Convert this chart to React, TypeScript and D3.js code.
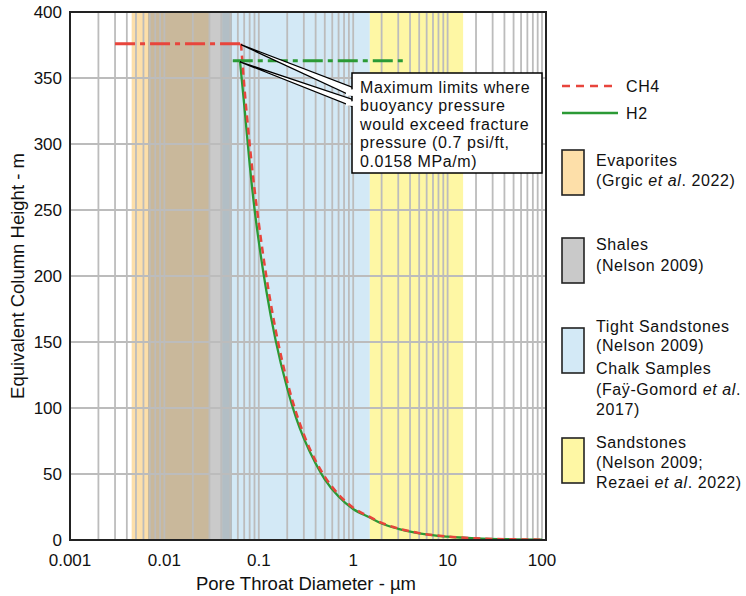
import React from "react";
import * as d3 from "d3";

// ---------- data ----------
const h2Diameter = [0.0632, 0.07, 0.08, 0.09, 0.1, 0.12, 0.15, 0.2, 0.25, 0.3, 0.4, 0.5, 0.7, 1, 1.5, 2, 3, 5, 10, 20, 50, 100];
const h2Height = [363, 330, 285, 251, 226, 189, 152, 115, 92, 77, 58, 46, 33, 23.5, 17, 12.5, 8.5, 5, 2.5, 1.2, 0.5, 0.25];
const ch4Diameter = [0.0648, 0.07, 0.08, 0.09, 0.1, 0.12, 0.15, 0.2, 0.25, 0.3, 0.4, 0.5, 0.7, 1, 1.5, 2, 3, 5, 10, 20, 50, 100];
const ch4Height = [376, 345, 300, 266, 240, 200, 160, 120, 96, 80, 60, 48, 34.5, 24.5, 17.5, 13, 8.8, 5.2, 2.6, 1.3, 0.5, 0.25];

const limitGas = ["CH4", "H2"];
const limitHeight = [376, 363];
const limitFrom = [0.003, 0.053];
const limitTo = [0.0648, 3.7];

const bandNames = ["Evaporites", "Tight Sandstones", "Sandstones", "Shales"];
const bandFrom = [0.0045, 0.041, 1.5, 0.0067];
const bandTo = [0.0304, 1.5, 14.6, 0.052];

const xTickValues = [0.001, 0.01, 0.1, 1, 10, 100];
const xTickLabels = ["0.001", "0.01", "0.1", "1", "10", "100"];
const yTickValues = [0, 50, 100, 150, 200, 250, 300, 350, 400];

const calloutLines = [
  "Maximum limits where",
  "buoyancy pressure",
  "would exceed fracture",
  "pressure (0.7 psi/ft,",
  "0.0158 MPa/m)",
];

// ---------- styles ----------
const FONT = "'Liberation Sans', Arial, Helvetica, sans-serif";
const RED = "#e8453c";
const GREEN = "#2b9a35";
const GRID = "#bcbcbc";
const bandFill: Record<string, string> = {
  Evaporites: "#fddfa9",
  "Tight Sandstones": "#d3e9f6",
  Sandstones: "#fef7a4",
  Shales: "#8a8a8a",
};
const bandOpacity: Record<string, number> = {
  Evaporites: 1,
  "Tight Sandstones": 1,
  Sandstones: 1,
  Shales: 0.45,
};

export default function App() {
  const W = 746, H = 596;
  const left = 70, right = 542, frameRight = 546, top = 12, bottom = 540;
  const FS = 16;
  const LS = 0.6;
  const TFS = 17;

  const x = d3.scaleLog().domain([0.001, 100]).range([left, right]);
  const y = d3.scaleLinear().domain([0, 400]).range([bottom, top]);

  const minorX: number[] = [];
  for (let e = -3; e <= 1; e++) {
    for (let m = 1; m <= 9; m++) minorX.push(m * Math.pow(10, e));
  }
  minorX.push(100);

  const line = d3
    .line<[number, number]>()
    .x((d) => x(d[0]))
    .y((d) => y(d[1]))
    .curve(d3.curveMonotoneX);

  const h2Path = line(h2Diameter.map((d, i) => [d, h2Height[i]]))!;
  const ch4Path = line(ch4Diameter.map((d, i) => [d, ch4Height[i]]))!;

  // callout geometry
  const boxX = 352, boxY = 73, boxW = 190, boxH = 100;
  const tips = [
    [x(limitTo[0]), y(limitHeight[0]) + 1],
    [x(h2Diameter[0]), y(limitHeight[1]) + 1],
  ];
  const wedgeEnds = [
    [88, 97],
    [100, 107],
  ];

  const legendText = (lines: React.ReactNode[], x0: number, ys: number[]) =>
    lines.map((l, i) => (
      <text key={i} x={x0} y={ys[i]} fontSize={FS} letterSpacing={LS} fontFamily={FONT} fill="#111">
        {l}
      </text>
    ));

  return (
    <svg width={W} height={H} style={{ position: "absolute", left: 0, top: 0, background: "#fff" }}>
      <rect x={0} y={0} width={W} height={H} fill="#fff" />
      {/* bands */}
      {bandNames.map((n, i) => (
        <rect
          key={n}
          x={x(bandFrom[i])}
          y={top}
          width={x(bandTo[i]) - x(bandFrom[i])}
          height={bottom - top}
          fill={bandFill[n]}
          fillOpacity={bandOpacity[n]}
        />
      ))}
      {/* grid */}
      {minorX.map((v, i) => (
        <line key={"gx" + i} x1={x(v)} x2={x(v)} y1={top} y2={bottom} stroke={GRID} strokeWidth={1.8} />
      ))}
      {yTickValues.map((v) => (
        <line key={"gy" + v} x1={left} x2={frameRight} y1={y(v)} y2={y(v)} stroke={GRID} strokeWidth={1.8} />
      ))}

      {/* curves */}
      <path d={h2Path} fill="none" stroke={GREEN} strokeWidth={2.3} />
      <path d={ch4Path} fill="none" stroke={RED} strokeWidth={2.5} strokeDasharray="7,5" />

      {/* limit lines */}
      {limitGas.map((g, i) => (
        <line
          key={g}
          x1={x(limitFrom[i])}
          x2={x(limitTo[i])}
          y1={y(limitHeight[i])}
          y2={y(limitHeight[i])}
          stroke={g === "CH4" ? RED : GREEN}
          strokeWidth={3}
          strokeDasharray="20,5,5,5"
        />
      ))}

      {/* callout */}
      {tips.map((t, i) => (
        <polygon
          key={"w" + i}
          points={`${t[0]},${t[1]} ${boxX + 2},${wedgeEnds[i][0]} ${boxX + 2},${wedgeEnds[i][1]}`}
          fill="#fff"
          stroke="#000"
          strokeWidth={1.3}
          strokeLinejoin="miter"
        />
      ))}
      <rect x={boxX} y={boxY} width={boxW} height={boxH} fill="#fff" stroke="#000" strokeWidth={1.5} />
      {tips.map((t, i) => (
        <polygon
          key={"wc" + i}
          points={`${boxX - 6},${wedgeEnds[i][0] + (wedgeEnds[i][1] - wedgeEnds[i][0]) * 0.12 + 0.9} ${boxX + 4},${wedgeEnds[i][0] + 0.9} ${boxX + 4},${wedgeEnds[i][1] - 0.9} ${boxX - 6},${wedgeEnds[i][1] - (wedgeEnds[i][1] - wedgeEnds[i][0]) * 0.05 - 0.9}`}
          fill="#fff"
        />
      ))}
      {calloutLines.map((l, i) => (
        <text key={"c" + i} x={360} y={93 + i * 18.4} fontSize={FS} letterSpacing={LS} fontFamily={FONT} fill="#111">
          {l}
        </text>
      ))}

      {/* frame */}
      <rect x={left} y={top} width={frameRight - left} height={bottom - top} fill="none" stroke="#222" strokeWidth={2} />

      {/* axes labels */}
      {yTickValues.map((v) => (
        <text key={"yl" + v} x={62} y={y(v) + 6} textAnchor="end" fontSize={TFS} fontFamily={FONT} fill="#111">
          {v}
        </text>
      ))}
      {xTickValues.map((v, i) => (
        <text key={"xl" + v} x={x(v)} y={566} textAnchor="middle" fontSize={TFS} fontFamily={FONT} fill="#111">
          {xTickLabels[i]}
        </text>
      ))}
      <text x={(left + right) / 2} y={590} textAnchor="middle" fontSize={18.5} fontFamily={FONT} fill="#111">
        Pore Throat Diameter - µm
      </text>
      <text
        transform={`translate(24,${(top + bottom) / 2}) rotate(-90)`}
        textAnchor="middle"
        fontSize={18.5}
        fontFamily={FONT}
        fill="#111"
      >
        Equivalent Column Height - m
      </text>

      {/* legend */}
      <line x1={562} x2={618} y1={86} y2={86} stroke={RED} strokeWidth={2.5} strokeDasharray="8,6" />
      <text x={626} y={92} fontSize={FS} letterSpacing={LS} fontFamily={FONT} fill="#111">CH4</text>
      <line x1={562} x2={618} y1={113} y2={113} stroke={GREEN} strokeWidth={2.5} />
      <text x={626} y={119} fontSize={FS} letterSpacing={LS} fontFamily={FONT} fill="#111">H2</text>

      <rect x={562} y={150} width={22} height={45} fill="#fddfa9" stroke="#222" strokeWidth={1.6} />
      {legendText(["Evaporites", <>(Grgic <tspan fontStyle="italic">et al</tspan>. 2022)</>], 596, [166, 186])}

      <rect x={562} y={238} width={22} height={45} fill="#c9c9c9" stroke="#222" strokeWidth={1.6} />
      {legendText(["Shales", "(Nelson 2009)"], 596, [250, 271])}

      <rect x={562} y={328} width={22} height={45} fill="#d3e9f6" stroke="#222" strokeWidth={1.6} />
      {legendText(
        [
          "Tight Sandstones",
          "(Nelson 2009)",
          "Chalk Samples",
          <>(Faÿ-Gomord <tspan fontStyle="italic">et al</tspan>.</>,
          "2017)",
        ],
        596,
        [332, 351, 374, 394.5, 414.5]
      )}

      <rect x={562} y={438} width={22} height={45} fill="#fef7a4" stroke="#222" strokeWidth={1.6} />
      {legendText(
        ["Sandstones", "(Nelson 2009;", <>Rezaei <tspan fontStyle="italic">et al</tspan>. 2022)</>],
        596,
        [448, 468, 488]
      )}
    </svg>
  );
}
